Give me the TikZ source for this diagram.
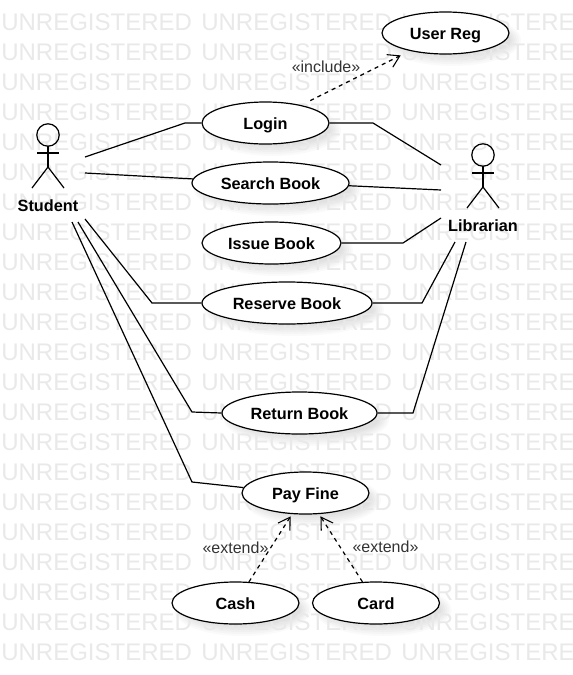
\documentclass[tikz,border=0pt]{standalone}
\usepackage{fontspec}
\setmainfont{Liberation Sans}
\usetikzlibrary{arrows.meta,shapes.geometric}
\definecolor{wm}{HTML}{E9E9E9}
\definecolor{stereo}{HTML}{333333}
\tikzset{
  px/.style={x=0.75pt,y=-0.75pt},
  line/.style={draw=black,line width=0.9pt,line join=miter},
  boxed/.style={text height=12pt,text depth=2.6pt},
  usecase/.style={draw=black,fill=white,line width=0.9pt,shape=ellipse,inner sep=0pt,minimum width=#1*0.75pt,minimum height=31.5pt,font=\bfseries\fontsize{12.2}{14}\selectfont,text=black,boxed},
  dep/.style={draw=black,line width=0.9pt,dash pattern=on 3pt off 3pt,-{Straight Barb[length=8.5pt,width=10.5pt,line width=0.8pt]}},
  stereolabel/.style={font=\fontsize{12}{14}\selectfont,text=stereo,inner sep=0pt,boxed},
  actorlabel/.style={font=\bfseries\fontsize{12.2}{14}\selectfont,text=black,inner sep=0pt,boxed},
  watermark/.style={font=\fontsize{18}{20}\selectfont,text=wm,anchor=base west,inner sep=0pt}
}
\newcommand{\softshadow}[3]{%
  \foreach \k in {0,1,...,5}{
    \fill[black,opacity=0.02] (#1+7,#2+7) ellipse [x radius={(#3)/2+5-2*\k},y radius={21+5-2*\k}];
  }}
\newcommand{\stickman}[2]{%
  \draw[line] (#1,#2) circle [radius=8.4pt];
  \draw[line] (#1,#2+11) -- (#1,#2+32);
  \draw[line] (#1-11,#2+18) -- (#1+11,#2+18);
  \draw[line] (#1-16,#2+53) -- (#1,#2+32) -- (#1+16,#2+53);
}
\begin{document}
\begin{tikzpicture}[px]
\useasboundingbox (0,0) rectangle (572,675);
\fill[white] (0,0) rectangle (572,675);
% shadows
\softshadow{445.5}{33}{127}
\softshadow{265.5}{123}{127}
\softshadow{270.5}{183}{157}
\softshadow{271.5}{243}{139}
\softshadow{287}{303}{170}
\softshadow{299.5}{413}{155}
\softshadow{305.5}{493}{127}
\softshadow{235.5}{603}{127}
\softshadow{376}{603}{127}
% watermark
\foreach \r in {0,...,21}{
  \foreach \c in {0,1,2}{
    \node[watermark] (wm\r c\c) at (\c*200+1,30+\r*30) {UNREGISTERED};
  }
}
% use cases
\node[usecase=127] (userreg) at (445.5,33) {User Reg};
\node[usecase=127] (login) at (265.5,123) {Login};
\node[usecase=157] (search) at (270.5,183) {Search Book};
\node[usecase=139] (issue) at (271.5,243) {Issue Book};
\node[usecase=170] (reserve) at (287,303) {Reserve Book};
\node[usecase=155] (return) at (299.5,413) {Return Book};
\node[usecase=127] (payfine) at (305.5,493) {Pay Fine};
\node[usecase=127] (cash) at (235.5,603) {Cash};
\node[usecase=127] (card) at (376,603) {Card};
% actors
\stickman{48}{135}
\stickman{483}{155}
\node[actorlabel] (student) at (48,205) {Student};
\node[actorlabel] (librarian) at (483,225) {Librarian};
% free ends beside actors
\coordinate (sa) at (85,157);
\coordinate (sb) at (85,173);
\coordinate (sc) at (85,219);
\coordinate (sd) at (78,222);
\coordinate (se) at (72,222);
\coordinate (la) at (441,165);
\coordinate (lb) at (441,190);
\coordinate (lc) at (441,218);
\coordinate (ld) at (455,242);
\coordinate (le) at (466,242);
% associations
\draw[line] (sa) -- (185,123) -- (login.west);
\draw[line] (sb) -- (search.177);
\draw[line] (sc) -- (152,303) -- (reserve.west);
\draw[line] (sd) -- (192,412) -- (return.west);
\draw[line] (se) -- (192,482) -- (payfine.175);
\draw[line] (login.east) -- (373,123) -- (la);
\draw[line] (search.-2) -- (lb);
\draw[line] (issue.east) -- (403,243) -- (lc);
\draw[line] (reserve.east) -- (422,303) -- (ld);
\draw[line] (return.east) -- (413,413) -- (le);
% dependencies
\draw[dep,shorten <=7.5pt,shorten >=7.5pt] (login) -- (userreg);
\draw[dep,shorten >=2pt] (cash) -- (payfine);
\draw[dep,shorten >=2pt] (card) -- (payfine);
\node[stereolabel] (inc) at (326,66.5) {«include»};
\node[stereolabel] (ext1) at (235.5,547.7) {«extend»};
\node[stereolabel] (ext2) at (385.5,546.5) {«extend»};
\end{tikzpicture}
\end{document}
